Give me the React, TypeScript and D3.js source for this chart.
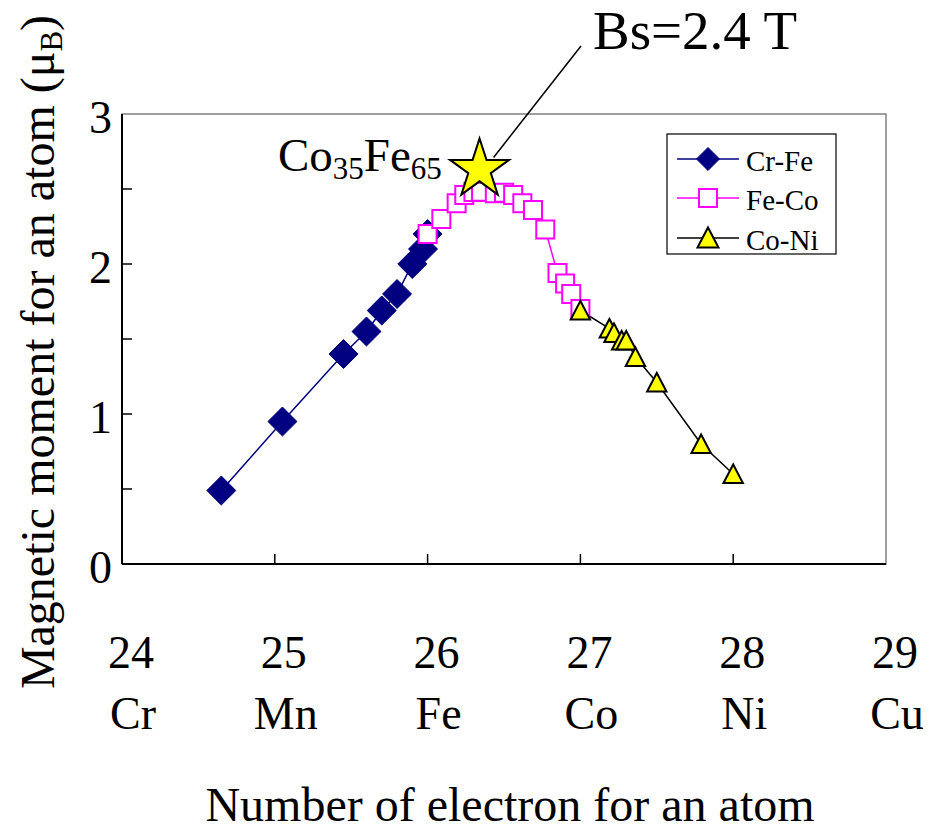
import React from "react";
import * as d3 from "d3";

const xTickValues = [24, 25, 26, 27, 28, 29];
const elementNames = ["Cr", "Mn", "Fe", "Co", "Ni", "Cu"];
const yMinorTicks = [0.5, 1, 1.5, 2, 2.5];
const yLabelValues = [0, 1, 2, 3];

const crFeX = [24.65, 25.05, 25.45, 25.6, 25.7, 25.8, 25.9, 25.97, 26.0];
const crFeY = [0.49, 0.95, 1.4, 1.55, 1.69, 1.8, 2.0, 2.1, 2.2];

const feCoX = [26.0, 26.09, 26.19, 26.24, 26.3, 26.35, 26.44, 26.5, 26.56, 26.62, 26.69, 26.77, 26.85, 26.9, 26.94, 27.0];
const feCoY = [2.2, 2.3, 2.405, 2.46, 2.48, 2.482, 2.471, 2.475, 2.46, 2.405, 2.36, 2.23, 1.94, 1.87, 1.8, 1.7];

const coNiX = [27.0, 27.19, 27.22, 27.27, 27.3, 27.36, 27.5, 27.79, 28.0];
const coNiY = [1.69, 1.57, 1.54, 1.49, 1.49, 1.38, 1.21, 0.8, 0.6];

const starX = [26.34];
const starY = [2.63];

const legendNames = ["Cr-Fe", "Fe-Co", "Co-Ni"];

const FONT = "'Liberation Serif', 'Times New Roman', serif";

const W = 931;
const H = 833;
const L = 122, R = 886, T = 114, B = 564;

export default function App() {
  const x = d3.scaleLinear().domain([24, 29]).range([L, R]);
  const y = d3.scaleLinear().domain([0, 3]).range([B, T]);

  const line = d3.line<[number, number]>().x((d) => x(d[0])).y((d) => y(d[1]));
  const crFe: [number, number][] = crFeX.map((v, i) => [v, crFeY[i]]);
  const feCo: [number, number][] = feCoX.map((v, i) => [v, feCoY[i]]);
  const coNi: [number, number][] = coNiX.map((v, i) => [v, coNiY[i]]);

  const diamond = d3.symbol(d3.symbolDiamond2, 536)()!;
  const diamondSmall = d3.symbol(d3.symbolDiamond2, 337)()!;
  const square = d3.symbol(d3.symbolSquare, 324)()!;
  const tri = "M0,-9.5L9.7,9L-9.7,9Z";
  const triLegend = "M0,-10.5L10.5,9.5L-10.5,9.5Z";
  const star = d3.symbol(d3.symbolStar, 1079)()!;

  const navy = "#000080";
  const magenta = "#FF00FF";
  const yellow = "#FFFF00";

  const sx = x(starX[0]);
  const sy = y(starY[0]);

  const legendRows = [159, 198, 238];

  return (
    <svg
      width={W}
      height={H}
      style={{ position: "absolute", left: 0, top: 0, background: "#fff" }}
      fontFamily={FONT}
    >
      <rect x={0} y={0} width={W} height={H} fill="#fff" />
      {/* plot frame */}
      <rect x={L} y={T} width={R - L} height={B - T} fill="none" stroke="#808080" strokeWidth={1.5} />
      <line x1={L} y1={T} x2={L} y2={B} stroke="#000" strokeWidth={2} />
      <line x1={L} y1={B} x2={R} y2={B} stroke="#000" strokeWidth={2} />
      {/* ticks */}
      {yMinorTicks.map((v) => (
        <line key={"yt" + v} x1={L} x2={L + 10} y1={y(v)} y2={y(v)} stroke="#000" strokeWidth={1.5} />
      ))}
      {xTickValues.slice(1, -1).map((v) => (
        <line key={"xt" + v} x1={x(v)} x2={x(v)} y1={B} y2={B - 10} stroke="#000" strokeWidth={1.5} />
      ))}
      {/* y labels */}
      {yLabelValues.map((v) => (
        <text key={"yl" + v} x={L - 10} y={y(v) + 19} fontSize={46} textAnchor="end">
          {v}
        </text>
      ))}
      {/* x labels */}
      {xTickValues.map((v, i) => (
        <g key={"xl" + v}>
          <text x={x(v) + 9} y={668} fontSize={46} textAnchor="middle">
            {v}
          </text>
          <text x={x(v) + 11} y={729} fontSize={46} textAnchor="middle">
            {elementNames[i]}
          </text>
        </g>
      ))}
      {/* axis titles */}
      <text x={510} y={821} fontSize={48} textAnchor="middle">
        Number of electron for an atom
      </text>
      <text transform="translate(54,352) rotate(-90)" fontSize={48} textAnchor="middle">
        Magnetic moment for an atom (μ
        <tspan fontSize={31} dy={8}>B</tspan>
        <tspan dy={-8}>)</tspan>
      </text>

      {/* series lines */}
      <path d={line(crFe)!} fill="none" stroke={navy} strokeWidth={1.5} />
      <path d={line(feCo)!} fill="none" stroke={magenta} strokeWidth={1.5} />
      <path d={line(coNi)!} fill="none" stroke="#000" strokeWidth={1.5} />

      {/* markers */}
      {crFe.map((d, i) => (
        <path key={"cf" + i} d={diamond} transform={`translate(${x(d[0])},${y(d[1])})`} fill={navy} stroke={navy} strokeWidth={1} />
      ))}
      {feCo.map((d, i) => (
        <path key={"fc" + i} d={square} transform={`translate(${x(d[0])},${y(d[1])})`} fill="#fff" stroke={magenta} strokeWidth={2} />
      ))}
      {coNi.map((d, i) => (
        <path key={"cn" + i} d={tri} transform={`translate(${x(d[0])},${y(d[1])})`} fill={yellow} stroke="#000" strokeWidth={2} strokeLinejoin="miter" />
      ))}

      {/* annotation */}
      <line x1={sx + 14} y1={sy - 12} x2={581} y2={46} stroke="#000" strokeWidth={1.5} />
      <path d={star} transform={`translate(${sx},${sy})`} fill={yellow} stroke="#000" strokeWidth={2} />
      <text x={593} y={49} fontSize={55}>Bs=2.4 T</text>
      <text x={278} y={171} fontSize={47}>
        Co<tspan fontSize={31} dy={8}>35</tspan>
        <tspan dy={-8}>Fe</tspan>
        <tspan fontSize={31} dy={8}>65</tspan>
      </text>

      {/* legend */}
      <rect x={667} y={134} width={169} height={120} fill="#fff" stroke="#000" strokeWidth={1.2} />
      {legendNames.map((n, i) => {
        const ry = legendRows[i];
        const col = i === 0 ? navy : i === 1 ? magenta : "#000";
        return (
          <g key={n}>
            <line x1={677} x2={739} y1={ry} y2={ry} stroke={col} strokeWidth={1.5} />
            {i === 0 && <path d={diamondSmall} transform={`translate(708,${ry})`} fill={navy} stroke={navy} />}
            {i === 1 && <path d={square} transform={`translate(708,${ry})`} fill="#fff" stroke={magenta} strokeWidth={2} />}
            {i === 2 && <path d={triLegend} transform={`translate(708,${ry})`} fill={yellow} stroke="#000" strokeWidth={2} />}
            <text x={746} y={ry + 12} fontSize={29}>{n}</text>
          </g>
        );
      })}
    </svg>
  );
}
